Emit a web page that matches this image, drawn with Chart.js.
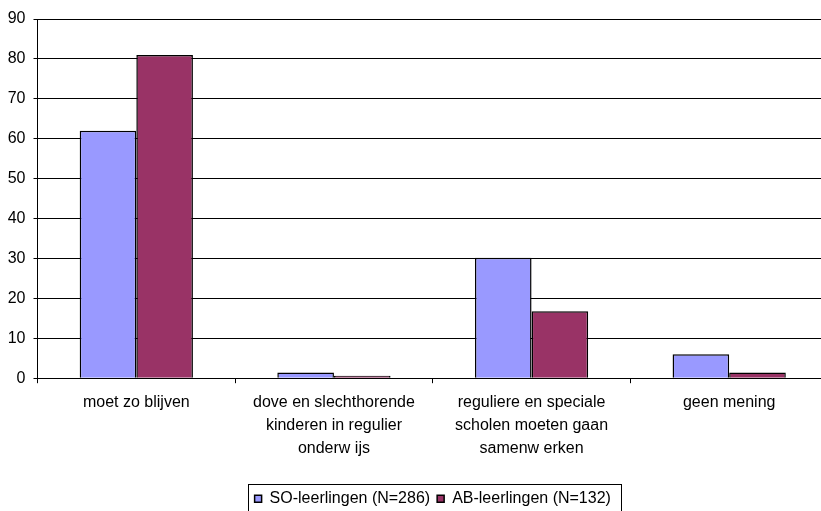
<!DOCTYPE html>
<html>
<head>
<meta charset="utf-8">
<script src="https://cdn.jsdelivr.net/npm/chart.js@4"></script>
<style>
  body { margin: 0; background: #fff; overflow: hidden; }
  #wrap { width: 821px; height: 511px; overflow: hidden; }
</style>
</head>
<body>
<div id="wrap"><canvas id="chart" width="828" height="520"></canvas></div>
<script>
// Data
const categories = [
    ['moet zo blijven'],
    ['dove en slechthorende', 'kinderen in regulier', 'onderw ijs'],
    ['reguliere en speciale', 'scholen moeten gaan', 'samenw erken'],
    ['geen mening']
];
const soValues = [62, 1.4, 30.2, 6.0];
const abValues = [81, 0.6, 16.8, 1.4];
const seriesNames = ['SO-leerlingen (N=286)', 'AB-leerlingen (N=132)'];
const yTicks = [0, 10, 20, 30, 40, 50, 60, 70, 80, 90];

const font = "'Liberation Sans', Arial, sans-serif";

// box around the legend, like the original
const legendBorder = {
    id: 'legendBorder',
    afterDraw(chart) {
        const lg = chart.legend;
        if (!lg || !lg.legendHitBoxes.length) return;
        const boxes = lg.legendHitBoxes;
        const last = boxes[boxes.length - 1];
        const left = boxes[0].left - 7;
        const right = last.left + last.width + 10;
        const ctx = chart.ctx;
        ctx.save();
        ctx.strokeStyle = '#000';
        ctx.lineWidth = 1;
        ctx.strokeRect(Math.round(left) + 0.5, Math.round(lg.top) + 0.5,
            Math.round(right - left), Math.round(lg.bottom - lg.top));
        ctx.restore();
    }
};

new Chart(document.getElementById('chart'), {
    type: 'bar',
    data: {
        labels: categories,
        datasets: [{
            label: seriesNames[0],
            data: soValues,
            backgroundColor: '#9999FF',
            borderColor: '#000',
            borderWidth: 1.5
        }, {
            label: seriesNames[1],
            data: abValues,
            backgroundColor: '#993366',
            borderColor: '#000',
            borderWidth: 1.5
        }]
    },
    options: {
        responsive: false,
        animation: false,
        categoryPercentage: 0.573,
        barPercentage: 1,
        layout: { padding: { top: 19, bottom: 3.3, left: 0, right: 0 } },
        scales: {
            x: {
                afterFit: s => { s.height = 105.5; },
                grid: { display: true, drawOnChartArea: false, offset: true, color: '#000', tickLength: 5 },
                border: { color: '#000', width: 1 },
                ticks: {
                    color: '#000',
                    padding: 8,
                    maxRotation: 0,
                    autoSkip: false,
                    font: { family: font, size: 16, lineHeight: 1.4375 }
                }
            },
            y: {
                min: 0,
                max: 90,
                afterFit: s => { s.width = 37.5; },
                afterBuildTicks: s => { s.ticks = yTicks.map(v => ({ value: v })); },
                grid: { color: '#000', tickLength: 4 },
                border: { color: '#000', width: 1 },
                ticks: {
                    color: '#000',
                    padding: 8,
                    font: { family: font, size: 16 }
                }
            }
        },
        plugins: {
            legend: {
                position: 'bottom',
                fullSize: false,
                labels: {
                    color: '#000',
                    boxWidth: 7,
                    boxHeight: 7,
                    padding: 7,
                    font: { family: font, size: 16 }
                }
            },
            tooltip: { enabled: false }
        }
    },
    plugins: [legendBorder]
});
</script>
</body>
</html>
